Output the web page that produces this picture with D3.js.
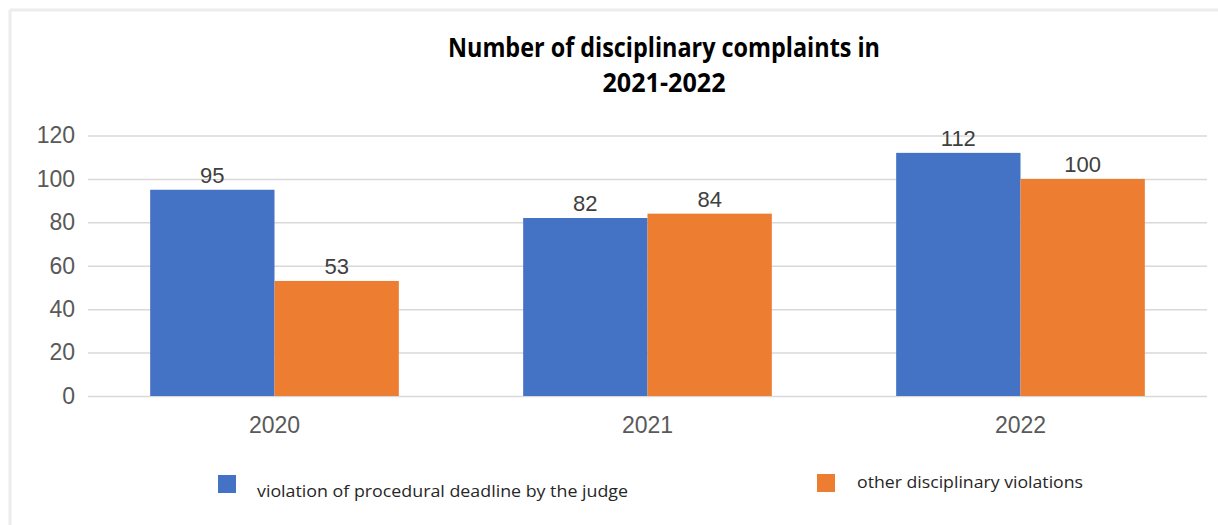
<!DOCTYPE html>
<html>
<head>
<meta charset="utf-8">
<script src="https://cdn.jsdelivr.net/npm/d3@7"></script>
<style>
  html, body { margin: 0; padding: 0; background: #fff; }
  svg { display: block; }
</style>
</head>
<body>
<svg id="chart" width="1218" height="525"></svg>
<script>
// Disciplinary complaints per year, split by type of violation
const years = ["2020", "2021", "2022"];
const seriesNames = ["violation of procedural deadline by the judge", "other disciplinary violations"];
const deadlineViolations = [95, 82, 112];
const otherViolations = [53, 84, 100];
const yTicks = [0, 20, 40, 60, 80, 100, 120];
const titleLines = ["Number of disciplinary complaints in", "2021-2022"];

const colors = ["#4472C4", "#ED7D31"];
const seriesValues = [deadlineViolations, otherViolations];

const svg = d3.select("#chart");

// frame (top and left edges only)
svg.append("line").attr("x1", 10).attr("x2", 1218).attr("y1", 10).attr("y2", 10)
  .attr("stroke", "#ececec").attr("stroke-width", 3);
svg.append("line").attr("x1", 10).attr("x2", 10).attr("y1", 10).attr("y2", 525)
  .attr("stroke", "#ececec").attr("stroke-width", 3);

// title
const titleWidths = [432, 123];
const titleBaselines = [57, 92];
titleLines.forEach((t, i) => {
  svg.append("text")
    .attr("x", 664).attr("y", titleBaselines[i])
    .attr("text-anchor", "middle")
    .attr("font-family", "'Open Sans', sans-serif")
    .attr("font-weight", "bold")
    .attr("font-size", 26)
    .attr("fill", "#000")
    .attr("textLength", titleWidths[i])
    .attr("lengthAdjust", "spacingAndGlyphs")
    .text(t);
});

// scales
const y = d3.scaleLinear().domain([0, 120]).range([396, 135.5]);
const x = d3.scaleBand().domain(years).range([88, 1207]).paddingInner(1 / 3).paddingOuter(1 / 6);
const xs = d3.scaleBand().domain(d3.range(seriesNames.length)).range([0, x.bandwidth()]);

// gridlines + y labels
const yAxis = d3.axisLeft(y).tickValues(yTicks).tickSize(-(1207 - 88)).tickPadding(13);
const gy = svg.append("g").attr("transform", "translate(88,0)").call(yAxis);
gy.select(".domain").remove();
gy.selectAll(".tick line").attr("stroke", "#d9d9d9").attr("stroke-width", 1.5);
gy.selectAll(".tick text")
  .attr("font-family", "'Liberation Sans', Arial, sans-serif")
  .attr("font-size", 23)
  .attr("fill", "#595959");

// x labels
const xAxis = d3.axisBottom(x).tickSize(0).tickPadding(21);
const gx = svg.append("g").attr("transform", "translate(0,396)").call(xAxis);
gx.select(".domain").remove();
gx.selectAll(".tick text")
  .attr("font-family", "'Liberation Sans', Arial, sans-serif")
  .attr("font-size", 23)
  .attr("fill", "#595959");

// bars + value labels
seriesValues.forEach((vals, s) => {
  const g = svg.append("g");
  g.selectAll("rect").data(vals).join("rect")
    .attr("x", (d, i) => x(years[i]) + xs(s))
    .attr("y", d => y(d))
    .attr("width", xs.bandwidth())
    .attr("height", d => y(0) - y(d))
    .attr("fill", colors[s]);
  g.selectAll("text").data(vals).join("text")
    .attr("x", (d, i) => x(years[i]) + xs(s) + xs.bandwidth() / 2)
    .attr("y", d => y(d) - 7)
    .attr("text-anchor", "middle")
    .attr("font-family", "'Liberation Sans', Arial, sans-serif")
    .attr("font-size", 22)
    .attr("fill", "#404040")
    .text(d => d);
});

// legend
const legendItems = [
  { sx: 218, sy: 475, tx: 257, ty: 497, w: 371 },
  { sx: 817, sy: 474, tx: 857, ty: 488, w: 226 }
];
legendItems.forEach((p, i) => {
  svg.append("rect").attr("x", p.sx).attr("y", p.sy).attr("width", 18).attr("height", 18)
    .attr("fill", colors[i]);
  svg.append("text")
    .attr("x", p.tx).attr("y", p.ty)
    .attr("font-family", "'Open Sans', sans-serif")
    .attr("font-size", 17)
    .attr("fill", "#262626")
    .attr("textLength", p.w)
    .attr("lengthAdjust", "spacingAndGlyphs")
    .text(seriesNames[i]);
});
</script>
</body>
</html>
